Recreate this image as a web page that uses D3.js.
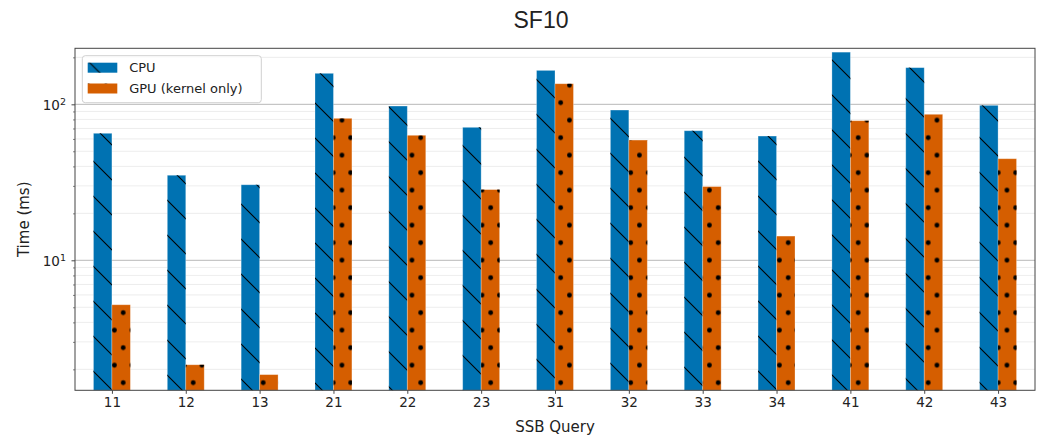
<!DOCTYPE html>
<html>
<head>
<meta charset="utf-8">
<script src="https://cdn.jsdelivr.net/npm/d3@7"></script>
<style>
  body { margin: 0; background: #fff; }
  svg { display: block; }
  text { font-family: "DejaVu Sans", sans-serif; fill: #222; }
</style>
</head>
<body>
<svg id="chart"></svg>
<script>
const queries = ["11", "12", "13", "21", "22", "23", "31", "32", "33", "34", "41", "42", "43"];
const cpuTimes = [65.2, 35.1, 30.5, 158, 97.5, 71.2, 165, 91.9, 67.7, 62.6, 216, 171.8, 98.5];
const gpuTimes = [5.19, 2.14, 1.85, 81.3, 63.3, 28.4, 135.5, 59.0, 29.7, 14.3, 78.5, 86.3, 44.8];
const seriesNames = ["CPU", "GPU (kernel only)"];
const yMajorTicks = [10, 100];
const yLimits = [1.468, 228.6];

const width = 1040;
const height = 438;
const margin = { left: 75, right: 5, top: 48.3, bottom: 47.7 };

const cpuColor = "#0072B2";
const gpuColor = "#D55E00";
const barWidth = 0.25;

const svg = d3.select("#chart").attr("width", width).attr("height", height);

//Scales: x is a plain linear scale over the query index so bars can sit either side of a tick
const xScale = d3.scaleLinear()
    .domain([-0.5, queries.length - 0.5])
    .range([margin.left, width - margin.right]);

const yScale = d3.scaleLog()
    .domain(yLimits)
    .range([height - margin.bottom, margin.top]);

const plotLeft = margin.left;
const plotRight = width - margin.right;
const plotTop = margin.top;
const plotBottom = height - margin.bottom;

//Hatch patterns, anchored to the page like matplotlib's
const defs = svg.append("defs");

const hatch = defs.append("pattern")
    .attr("id", "hatch-back")
    .attr("patternUnits", "userSpaceOnUse")
    .attr("x", 0).attr("y", 33)
    .attr("width", 35).attr("height", 35);
[[0, 0, 35, 35], [-2, 33, 2, 37], [33, -2, 37, 2]].forEach(l => {
    hatch.append("line")
        .attr("x1", l[0]).attr("y1", l[1]).attr("x2", l[2]).attr("y2", l[3])
        .attr("stroke", "#000").attr("stroke-width", 1.1);
});

const dots = defs.append("pattern")
    .attr("id", "hatch-dots")
    .attr("patternUnits", "userSpaceOnUse")
    .attr("x", -3.675).attr("y", 6.45)
    .attr("width", 17.5).attr("height", 35);
[[4.375, 26.25], [13.125, 8.75]].forEach(p => {
    dots.append("circle").attr("cx", p[0]).attr("cy", p[1]).attr("r", 2.4).attr("fill", "#000");
});

//Minor and major grid lines
const minorTicks = [];
for (let e = 0; e <= 2; e++) {
    for (let m = 2; m <= 9; m++) {
        const v = m * Math.pow(10, e);
        if (v > yLimits[0] && v < yLimits[1]) minorTicks.push(v);
    }
}

const grid = svg.append("g");
grid.selectAll("line.minor")
    .data(minorTicks)
    .enter()
    .append("line")
    .attr("class", "minor")
    .attr("x1", plotLeft).attr("x2", plotRight)
    .attr("y1", d => yScale(d)).attr("y2", d => yScale(d))
    .attr("stroke", "#e8e8e8").attr("stroke-width", 0.8);

grid.selectAll("line.major")
    .data(yMajorTicks)
    .enter()
    .append("line")
    .attr("class", "major")
    .attr("x1", plotLeft).attr("x2", plotRight)
    .attr("y1", d => yScale(d)).attr("y2", d => yScale(d))
    .attr("stroke", "#b8b8b8").attr("stroke-width", 1);

//Bars: fill first, then the hatch over it
const series = [
    { name: seriesNames[0], values: cpuTimes, color: cpuColor, hatch: "url(#hatch-back)", offset: -barWidth },
    { name: seriesNames[1], values: gpuTimes, color: gpuColor, hatch: "url(#hatch-dots)", offset: 0 }
];

const barLayer = svg.append("g");
series.forEach(s => {
    const g = barLayer.append("g");
    const rows = s.values.map((v, i) => ({ i: i, v: v }));
    const barX = d => xScale(d.i + s.offset);
    const barW = d => xScale(d.i + s.offset + barWidth) - xScale(d.i + s.offset);
    const barY = d => yScale(d.v);
    const barH = d => plotBottom - yScale(d.v);

    g.selectAll("rect.fill")
        .data(rows)
        .enter()
        .append("rect")
        .attr("class", "fill")
        .attr("x", barX).attr("width", barW)
        .attr("y", barY).attr("height", barH)
        .attr("fill", s.color)
        .attr("stroke", "#fff").attr("stroke-opacity", 0.35).attr("stroke-width", 0.8);

    g.selectAll("rect.hatch")
        .data(rows)
        .enter()
        .append("rect")
        .attr("class", "hatch")
        .attr("x", barX).attr("width", barW)
        .attr("y", barY).attr("height", barH)
        .attr("fill", s.hatch);
});

//Axes
const xAxis = d3.axisBottom(xScale)
    .tickValues(d3.range(queries.length))
    .tickFormat(i => queries[i])
    .tickSize(3.5)
    .tickPadding(3.5);

svg.append("g")
    .attr("transform", "translate(0," + plotBottom + ")")
    .call(xAxis)
    .call(g => g.select(".domain").remove())
    .call(g => g.selectAll("line").attr("stroke", "#333").attr("stroke-width", 0.9))
    .call(g => g.selectAll("text").attr("font-size", "13.5px").attr("fill", "#222"));

const yAxis = d3.axisLeft(yScale)
    .tickValues(yMajorTicks)
    .tickFormat("")
    .tickSize(3.5);

const yAxisG = svg.append("g")
    .attr("transform", "translate(" + plotLeft + ",0)")
    .call(yAxis)
    .call(g => g.select(".domain").remove())
    .call(g => g.selectAll("line").attr("stroke", "#333").attr("stroke-width", 0.9));

//Tick labels written as 10 with a raised exponent
yAxisG.selectAll(".tick").each(function (d) {
    const t = d3.select(this).append("text")
        .attr("x", -9)
        .attr("dy", "0.35em")
        .attr("text-anchor", "end")
        .attr("font-size", "13.5px")
        .attr("fill", "#222");
    t.append("tspan").text("10");
    t.append("tspan")
        .attr("dy", "-0.45em")
        .attr("font-size", "9.5px")
        .text(Math.round(Math.log10(d)));
});

svg.append("g")
    .attr("transform", "translate(" + plotLeft + ",0)")
    .call(d3.axisLeft(yScale).tickValues(minorTicks).tickFormat("").tickSize(2))
    .call(g => g.select(".domain").remove())
    .call(g => g.selectAll("line").attr("stroke", "#333").attr("stroke-width", 0.6));

//Frame round the plot
svg.append("rect")
    .attr("x", plotLeft).attr("y", plotTop)
    .attr("width", plotRight - plotLeft).attr("height", plotBottom - plotTop)
    .attr("fill", "none")
    .attr("stroke", "#444").attr("stroke-width", 1);

//Legend
const legend = svg.append("g").attr("transform", "translate(82.3,55.7)");
legend.append("rect")
    .attr("width", 179).attr("height", 47)
    .attr("rx", 3)
    .attr("fill", "#fff").attr("fill-opacity", 0.8)
    .attr("stroke", "#d0d0d0").attr("stroke-width", 1);

series.forEach((s, k) => {
    const row = legend.append("g").attr("transform", "translate(5.4," + (7 + k * 20.8) + ")");
    row.append("rect").attr("width", 29.6).attr("height", 10).attr("fill", s.color);
    row.append("rect").attr("width", 29.6).attr("height", 10).attr("fill", s.hatch);
    row.append("text")
        .attr("x", 41.5).attr("y", 5)
        .attr("dy", "0.35em")
        .attr("font-size", "13px")
        .attr("fill", "#222")
        .text(s.name);
});

//Titles
svg.append("text")
    .attr("x", 541).attr("y", 28)
    .attr("text-anchor", "middle")
    .attr("font-size", "23px")
    .style("font-family", "'Liberation Sans', Arial, sans-serif")
    .text("SF10");

svg.append("text")
    .attr("x", (plotLeft + plotRight) / 2).attr("y", 432)
    .attr("text-anchor", "middle")
    .attr("font-size", "15px")
    .text("SSB Query");

svg.append("text")
    .attr("transform", "translate(29," + ((plotTop + plotBottom) / 2) + ") rotate(-90)")
    .attr("text-anchor", "middle")
    .attr("font-size", "15px")
    .text("Time (ms)");
</script>
</body>
</html>
